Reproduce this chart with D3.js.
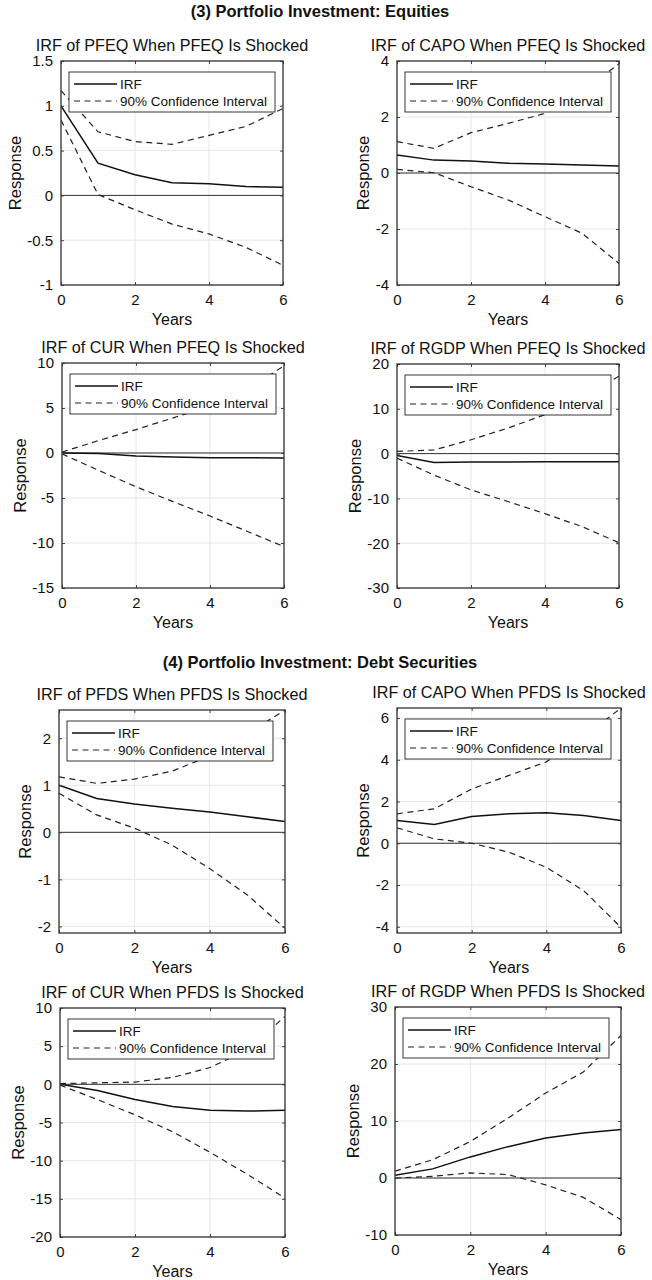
<!DOCTYPE html>
<html><head><meta charset="utf-8">
<script src="https://cdn.jsdelivr.net/npm/d3@7"></script>
<style>
body{margin:0;background:#fff}
svg{display:block}
text{font-family:"Liberation Sans",Arial,Helvetica,sans-serif;fill:#111}
</style>
</head><body>
<svg id="chart" width="652" height="1280"></svg>
<script>
// ---------------- DATA ----------------
const years = [0, 1, 2, 3, 4, 5, 6];
const xTicks = [0, 2, 4, 6];
const sectionTitles = ["(3) Portfolio Investment: Equities", "(4) Portfolio Investment: Debt Securities"];
const panelTitles = [
  "IRF of PFEQ When PFEQ Is Shocked",
  "IRF of CAPO When PFEQ Is Shocked",
  "IRF of CUR When PFEQ Is Shocked",
  "IRF of RGDP When PFEQ Is Shocked",
  "IRF of PFDS When PFDS Is Shocked",
  "IRF of CAPO When PFDS Is Shocked",
  "IRF of CUR When PFDS Is Shocked",
  "IRF of RGDP When PFDS Is Shocked"
];
const legendLabels = ["IRF", "90% Confidence Interval"];
const xLabel = "Years";
const yLabel = "Response";
const yDomains = [[-1, 1.5], [-4, 4], [-15, 10], [-30, 20], [-2.14, 2.6], [-4.3, 6.48], [-20, 10], [-10, 30]];
const yTicks = [
  [-1, -0.5, 0, 0.5, 1, 1.5],
  [-4, -2, 0, 2, 4],
  [-15, -10, -5, 0, 5, 10],
  [-30, -20, -10, 0, 10, 20],
  [-2, -1, 0, 1, 2],
  [-4, -2, 0, 2, 4, 6],
  [-20, -15, -10, -5, 0, 5, 10],
  [-10, 0, 10, 20, 30]
];

// (3) Equities shock
const irfPfeqPfeq   = [1.00, 0.36, 0.23, 0.14, 0.13, 0.10, 0.09];
const upperPfeqPfeq = [1.17, 0.71, 0.60, 0.57, 0.67, 0.77, 0.97];
const lowerPfeqPfeq = [0.84, 0.01, -0.16, -0.32, -0.43, -0.58, -0.78];

const irfCapoPfeq   = [0.64, 0.46, 0.43, 0.35, 0.32, 0.29, 0.25];
const upperCapoPfeq = [1.12, 0.88, 1.44, 1.77, 2.13, 2.9, 3.9];
const lowerCapoPfeq = [0.13, 0.01, -0.49, -0.96, -1.56, -2.15, -3.23];

const irfCurPfeq    = [0.0, -0.05, -0.33, -0.45, -0.52, -0.52, -0.55];
const upperCurPfeq  = [0.1, 1.4, 2.6, 3.9, 5.2, 7.0, 9.7];
const lowerCurPfeq  = [-0.1, -1.95, -3.75, -5.4, -7.0, -8.7, -10.4];

const irfRgdpPfeq   = [-0.4, -2.0, -1.9, -1.9, -1.8, -1.8, -1.8];
const upperRgdpPfeq = [0.5, 0.8, 3.1, 5.7, 8.7, 12.5, 17.3];
const lowerRgdpPfeq = [-1.0, -4.8, -8.1, -10.7, -13.4, -16.3, -19.9];

// (4) Debt securities shock
const irfPfdsPfds   = [1.00, 0.72, 0.60, 0.51, 0.43, 0.33, 0.23];
const upperPfdsPfds = [1.18, 1.04, 1.13, 1.30, 1.62, 2.10, 2.60];
const lowerPfdsPfds = [0.83, 0.37, 0.09, -0.27, -0.77, -1.33, -2.04];

const irfCapoPfds   = [1.09, 0.90, 1.28, 1.41, 1.46, 1.33, 1.09];
const upperCapoPfds = [1.41, 1.65, 2.60, 3.25, 3.90, 5.10, 6.48];
const lowerCapoPfds = [0.74, 0.21, 0.00, -0.43, -1.15, -2.27, -4.03];

const irfCurPfds    = [0.0, -0.8, -2.0, -2.9, -3.4, -3.5, -3.4];
const upperCurPfds  = [0.1, 0.2, 0.3, 0.9, 2.2, 4.5, 8.9];
const lowerCurPfds  = [-0.1, -2.0, -4.0, -6.2, -8.9, -11.8, -14.9];

const irfRgdpPfds   = [0.5, 1.6, 3.7, 5.5, 7.0, 7.9, 8.5];
const upperRgdpPfds = [1.2, 3.2, 6.4, 10.5, 14.9, 18.6, 25.0];
const lowerRgdpPfds = [0.0, 0.3, 0.9, 0.6, -1.2, -3.4, -7.3];

const panelSeries = [
  [irfPfeqPfeq, upperPfeqPfeq, lowerPfeqPfeq],
  [irfCapoPfeq, upperCapoPfeq, lowerCapoPfeq],
  [irfCurPfeq, upperCurPfeq, lowerCurPfeq],
  [irfRgdpPfeq, upperRgdpPfeq, lowerRgdpPfeq],
  [irfPfdsPfds, upperPfdsPfds, lowerPfdsPfds],
  [irfCapoPfds, upperCapoPfds, lowerCapoPfds],
  [irfCurPfds, upperCurPfds, lowerCurPfds],
  [irfRgdpPfds, upperRgdpPfds, lowerRgdpPfds]
];

// ---------------- LAYOUT ----------------
const boxes = [
  {l: 61, t: 61, r: 283, b: 285},
  {l: 397, t: 61, r: 619, b: 285},
  {l: 62, t: 363, r: 284, b: 588},
  {l: 397, t: 364, r: 619, b: 588},
  {l: 59, t: 710, r: 285, b: 933},
  {l: 397, t: 708, r: 621, b: 933},
  {l: 60, t: 1008, r: 285, b: 1237},
  {l: 395, t: 1007, r: 621, b: 1235}
];
const sectionY = [17, 668];

const svg = d3.select("#chart");
svg.append("rect").attr("width", 652).attr("height", 1280).attr("fill", "#fff");

sectionTitles.forEach((t, i) => {
  svg.append("text").attr("x", 320).attr("y", sectionY[i])
    .attr("text-anchor", "middle").attr("font-size", 16.5).attr("font-weight", "bold")
    .text(t);
});

const defs = svg.append("defs");

boxes.forEach((bx, i) => {
  const x = d3.scaleLinear().domain([0, 6]).range([bx.l, bx.r]);
  const y = d3.scaleLinear().domain(yDomains[i]).range([bx.b, bx.t]);
  const g = svg.append("g");

  defs.append("clipPath").attr("id", "clip" + i)
    .append("rect").attr("x", bx.l).attr("y", bx.t)
    .attr("width", bx.r - bx.l).attr("height", bx.b - bx.t);

  // grid
  g.append("g").selectAll("line").data(yTicks[i]).join("line")
    .attr("x1", bx.l).attr("x2", bx.r).attr("y1", d => y(d)).attr("y2", d => y(d))
    .attr("stroke", "#e6e6e6").attr("stroke-width", 1);
  g.append("g").selectAll("line").data(xTicks).join("line")
    .attr("y1", bx.t).attr("y2", bx.b).attr("x1", d => x(d)).attr("x2", d => x(d))
    .attr("stroke", "#e6e6e6").attr("stroke-width", 1);

  // zero line
  g.append("line").attr("x1", bx.l).attr("x2", bx.r).attr("y1", y(0)).attr("y2", y(0))
    .attr("stroke", "#333").attr("stroke-width", 1);

  const line = d3.line().x((d, k) => x(years[k])).y(d => y(d));
  const [irf, up, lo] = panelSeries[i];
  const lg = g.append("g").attr("clip-path", "url(#clip" + i + ")");
  [up, lo].forEach(s => {
    lg.append("path").attr("d", line(s)).attr("fill", "none")
      .attr("stroke", "#222").attr("stroke-width", 1.2).attr("stroke-dasharray", "6,4.5");
  });
  lg.append("path").attr("d", line(irf)).attr("fill", "none")
    .attr("stroke", "#111").attr("stroke-width", 1.5);

  // axes (inward ticks)
  const axL = d3.axisLeft(y).tickValues(yTicks[i]).tickSize(-3).tickPadding(8)
    .tickFormat(d => String(d));
  const axB = d3.axisBottom(x).tickValues(xTicks).tickSize(-3).tickPadding(9)
    .tickFormat(d => String(d));
  const axT = d3.axisTop(x).tickValues(xTicks).tickSize(-3).tickFormat("");
  const axR = d3.axisRight(y).tickValues(yTicks[i]).tickSize(-3).tickFormat("");

  const gl = g.append("g").attr("transform", `translate(${bx.l},0)`).call(axL);
  const gb = g.append("g").attr("transform", `translate(0,${bx.b})`).call(axB);
  g.append("g").attr("transform", `translate(0,${bx.t})`).call(axT);
  g.append("g").attr("transform", `translate(${bx.r},0)`).call(axR);
  g.selectAll(".domain").remove();
  g.selectAll(".tick line").attr("stroke", "#444");
  gl.selectAll("text").attr("font-size", 15).attr("fill", "#111")
    .attr("font-family", '"Liberation Sans",Arial,sans-serif');
  gb.selectAll("text").attr("font-size", 15).attr("fill", "#111")
    .attr("font-family", '"Liberation Sans",Arial,sans-serif');

  // box
  g.append("rect").attr("x", bx.l).attr("y", bx.t)
    .attr("width", bx.r - bx.l).attr("height", bx.b - bx.t)
    .attr("fill", "none").attr("stroke", "#333").attr("stroke-width", 1.3);

  // title
  g.append("text").attr("x", (bx.l + bx.r) / 2).attr("y", bx.t - 10)
    .attr("text-anchor", "middle").attr("font-size", 16.2).text(panelTitles[i]);

  // x label
  g.append("text").attr("x", (bx.l + bx.r) / 2).attr("y", bx.b + 40)
    .attr("text-anchor", "middle").attr("font-size", 16).text(xLabel);

  // y label
  let maxW = 0;
  gl.selectAll("text").each(function() { maxW = Math.max(maxW, this.getComputedTextLength()); });
  const cx = bx.l - 8 - maxW - 12;
  g.append("text").attr("transform", `translate(${cx},${(bx.t + bx.b) / 2}) rotate(-90)`)
    .attr("text-anchor", "middle").attr("dy", "0.35em").attr("font-size", 16.5).text(yLabel);

  // legend
  const lx = bx.l + 8, ly = bx.t + 11, lw = 206, lh = 40;
  const leg = g.append("g");
  leg.append("rect").attr("x", lx).attr("y", ly).attr("width", lw).attr("height", lh)
    .attr("fill", "#fff").attr("stroke", "#222").attr("stroke-width", 0.9);
  const rows = [ly + 12, ly + 29];
  leg.append("line").attr("x1", lx + 5).attr("x2", lx + 48).attr("y1", rows[0]).attr("y2", rows[0])
    .attr("stroke", "#111").attr("stroke-width", 1.5);
  leg.append("line").attr("x1", lx + 5).attr("x2", lx + 48).attr("y1", rows[1]).attr("y2", rows[1])
    .attr("stroke", "#222").attr("stroke-width", 1.2).attr("stroke-dasharray", "6,4.5");
  legendLabels.forEach((t, k) => {
    leg.append("text").attr("x", lx + 51).attr("y", rows[k]).attr("dy", "0.35em")
      .attr("font-size", 13.5).text(t);
  });
});
</script>
</body></html>
